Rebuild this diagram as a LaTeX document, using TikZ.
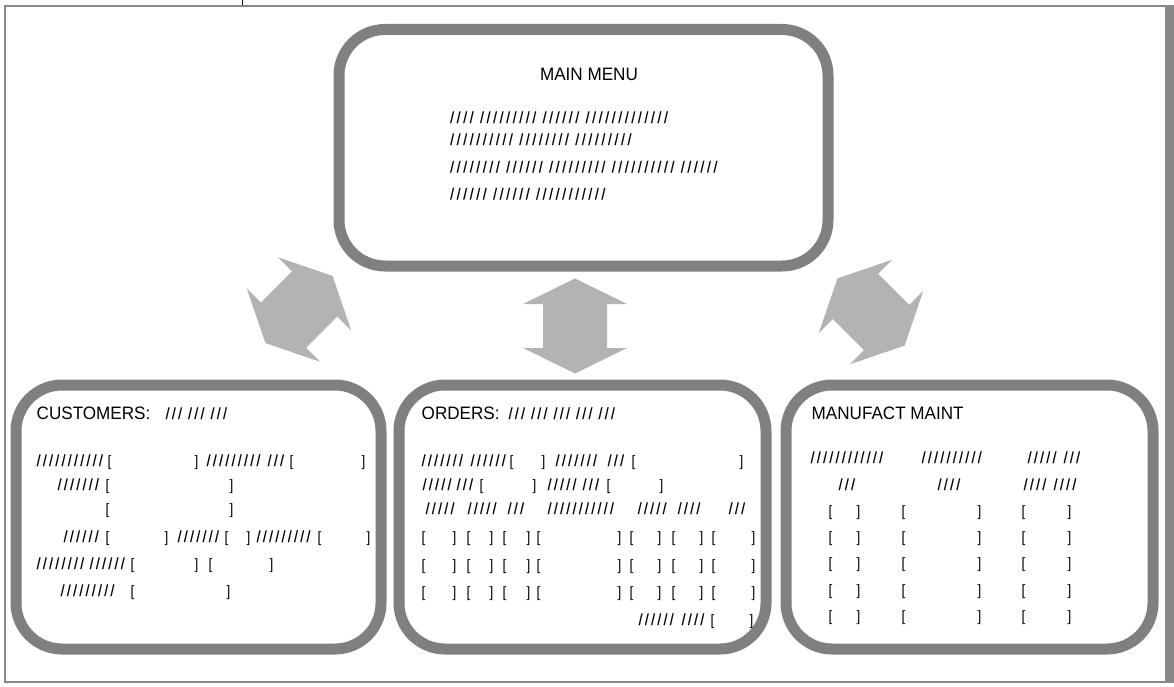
\documentclass[tikz,border=0pt]{standalone}
\usepackage{fontspec}
\setmainfont{Liberation Sans}
\newfontfamily\hdfont[FakeStretch=0.95]{Liberation Sans}
\newfontfamily\brfont[FakeStretch=0.9]{Liberation Sans}
\newfontfamily\slfont[FakeStretch=0.85,LetterSpace=15.3,FakeBold=0.5]{Liberation Sans}
\newfontfamily\mmfont[FakeStretch=0.85,LetterSpace=17.2,FakeBold=0.5]{Liberation Sans}
\newcommand\putat[2]{\rlap{\hspace*{#1pt}#2}}
\newcommand\SL[1]{{\slfont\fontsize{16}{18}\selectfont #1}}
\newcommand\MM[1]{{\mmfont\fontsize{16}{18}\selectfont #1}}
\definecolor{boxgray}{HTML}{808080}
\definecolor{arrowgray}{HTML}{B3B3B3}
\definecolor{framegray}{HTML}{888888}
\tikzset{
  panel/.style={draw=boxgray, line width=11pt, rounded corners=46pt, inner sep=0pt, fill=white},
  hd/.style={anchor=base west, inner sep=0pt, font=\hdfont\fontsize{18}{20}\selectfont},
  row/.style={anchor=base west, inner sep=0pt, font=\brfont\fontsize{15}{18}\selectfont},
  dblarrow/.pic={\fill[arrowgray] (0,-47.5) -- (52,-22) -- (32,-22) -- (32,22) -- (52,22)
     -- (0,47.5) -- (-52,22) -- (-32,22) -- (-32,-22) -- (-52,-22) -- cycle;}
}
\begin{document}
\begin{tikzpicture}[x=1pt,y=-1pt]
\useasboundingbox (0,0) rectangle (1174,687);
% frame
\fill[framegray] (1164.5,5) rectangle (1174,683);
\draw[framegray, line width=2.5pt] (5,683) -- (5,6) -- (1174,6);
\draw[framegray, line width=2.5pt] (5,682) -- (1174,682);
\draw[black, line width=0.8pt] (242,0) -- (242,5.5);
% panels
\node[panel, minimum width=489pt, minimum height=236.5pt] (main) at (583.5,147.75) {};
\node[panel, minimum width=365pt, minimum height=264pt] (cust) at (198.5,517) {};
\node[panel, minimum width=367pt, minimum height=264pt] (ord) at (582.5,517) {};
\node[panel, minimum width=367pt, minimum height=264pt] (manu) at (969.5,517) {};
% arrows
\pic[rotate=-45] at (299,309.5) {dblarrow};
\pic at (575,326) {dblarrow};
\pic[rotate=45] at (871,312) {dblarrow};
% main menu text
\node[anchor=base, inner sep=0pt, font=\hdfont\fontsize{18}{20}\selectfont] (mtitle) at (589,81) {MAIN MENU};
\node[row] (m1) at (450,123) {\MM{//// ///////// ////// /////////////}};
\node[row] (m2) at (450,145) {\MM{////////// //////// /////////}};
\node[row] (m3) at (450,172.5) {\MM{//////// ////// ///////// ////////// //////}};
\node[row] (m4) at (450,199.5) {\MM{////// ////// ///////////}};
% headings
\node[hd] (h1) at (0,419) {\putat{36}{CUSTOMERS:}\putat{165}{\SL{/// /// ///}}};
\node[hd] (h2) at (0,419) {\putat{421}{ORDERS:}\putat{508}{\SL{/// /// /// /// ///}}};
\node[hd] (h3) at (0,419) {\putat{811}{MANUFACT MAINT}};
% customers
\node[row] (c1) at (0,466) {\putat{36}{\SL{///////////}}\putat{107}{[}\putat{194}{]}\putat{206}{\SL{/////////}}\putat{267}{\SL{///}}\putat{289}{[}\putat{361}{]}};
\node[row] (c2) at (0,490) {\putat{57}{\SL{///////}}\putat{105}{[}\putat{229}{]}};
\node[row] (c3) at (0,514) {\putat{105}{[}\putat{229}{]}};
\node[row] (c4) at (0,542) {\putat{63}{\SL{//////}}\putat{105}{[}\putat{164}{]}\putat{177}{\SL{///////}}\putat{224}{[}\putat{246}{]}\putat{256}{\SL{/////////}}\putat{317}{[}\putat{366}{]}};
\node[row] (c5) at (0,569) {\putat{36}{\SL{////////}}\putat{89}{\SL{//////}}\putat{130}{[}\putat{194}{]}\putat{208}{[}\putat{269}{]}};
\node[row] (c6) at (0,596) {\putat{60}{\SL{/////////}}\putat{130}{[}\putat{226}{]}};
% orders
\node[row] (o1) at (0,466) {\putat{421}{\SL{///////}}\putat{470}{\SL{//////}}\putat{509}{[}\putat{541}{]}\putat{555}{\SL{///////}}\putat{607}{\SL{///}}\putat{631}{[}\putat{739}{]}};
\node[row] (o2) at (0,490) {\putat{422}{\SL{/////}}\putat{456}{\SL{///}}\putat{479}{[}\putat{532}{]}\putat{547}{\SL{/////}}\putat{582}{\SL{///}}\putat{606}{[}\putat{659}{]}};
\node[row] (o3) at (0,514) {\putat{425}{\SL{/////}}\putat{467}{\SL{/////}}\putat{507}{\SL{///}}\putat{547}{\SL{///////////}}\putat{637}{\SL{/////}}\putat{677}{\SL{////}}\putat{728}{\SL{///}}};
\foreach \yy/\nm in {542/o4,570/o5,597/o6}{
  \node[row] (\nm) at (0,\yy) {\putat{421}{[}\putat{452}{]}\putat{466}{[}\putat{489}{]}\putat{502}{[}\putat{526}{]}\putat{536}{[}\putat{617}{]}\putat{629}{[}\putat{657}{]}\putat{671}{[}\putat{699}{]}\putat{711}{[}\putat{751}{]}};
}
\node[row] (o7) at (0,625) {\putat{638}{\SL{//////}}\putat{681}{\SL{////}}\putat{710}{[}\putat{749}{]}};
% manufact
\node[row] (f1) at (0,463) {\putat{810}{\SL{////////////}}\putat{921}{\SL{//////////}}\putat{1027}{\SL{/////}}\putat{1063}{\SL{///}}};
\node[row] (f2) at (0,490) {\putat{838}{\SL{///}}\putat{937}{\SL{////}}\putat{1023}{\SL{////}}\putat{1053}{\SL{////}}};
\foreach \yy/\nm in {516/f3,542/f4,568/f5,595/f6,621.5/f7}{
  \node[row] (\nm) at (0,\yy) {\putat{828}{[}\putat{856}{]}\putat{901}{[}\putat{977}{]}\putat{1021}{[}\putat{1067}{]}};
}
\end{tikzpicture}
\end{document}
